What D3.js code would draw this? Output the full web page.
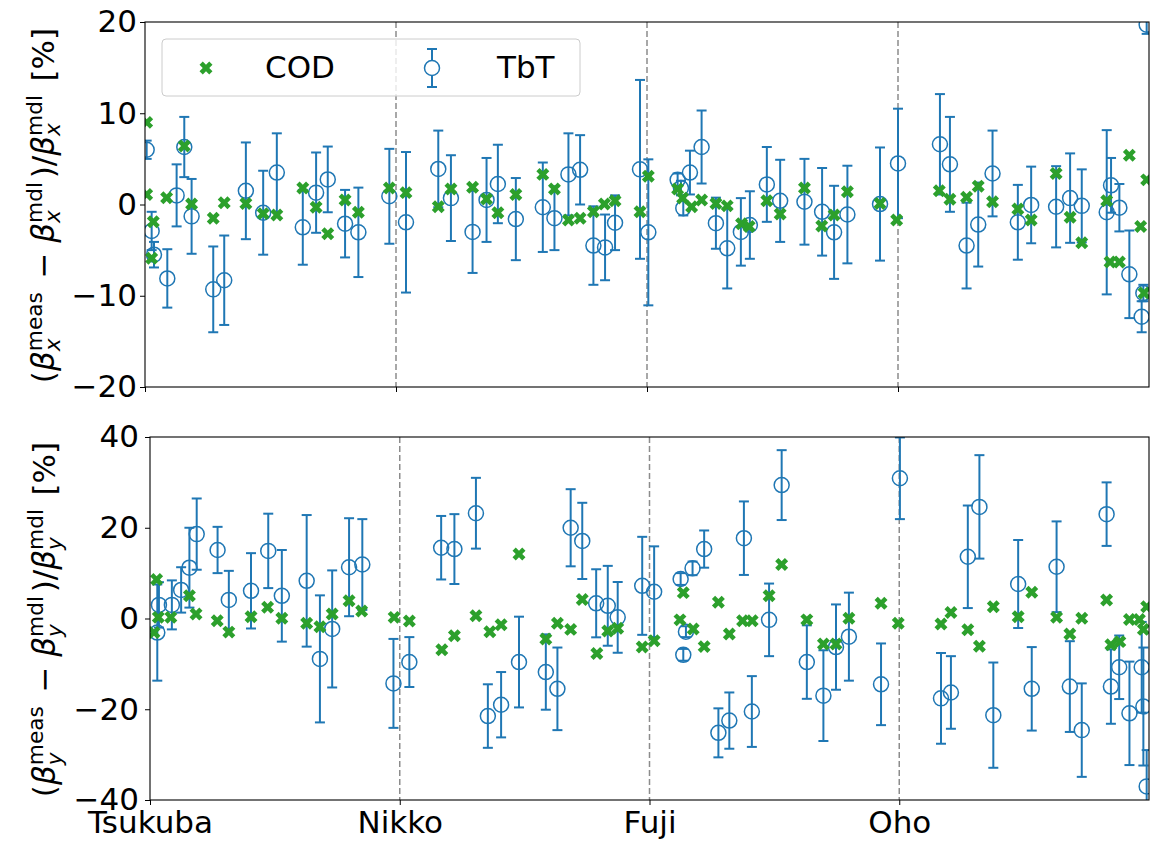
<!DOCTYPE html>
<html>
<head>
<meta charset="utf-8">
<script src="https://cdn.jsdelivr.net/npm/d3@7"></script>
<style>
  body { margin: 0; background: #fff; }
  text { font-family: "DejaVu Sans", sans-serif; fill: #000; }
</style>
</head>
<body>
<svg id="chart" width="1156" height="841"></svg>
<script>
// --------------- Data ---------------
const STATIONS = ["Tsukuba", "Nikko", "Fuji", "Oho"];
const STATION_S = [0, 754, 1508, 2262];
const RING_LENGTH = 3016;

// horizontal beta beating, COD method
const xCodS = [5, 5, 25, 20, 65, 118, 140, 205, 238, 303, 355, 396, 474, 514, 549, 601, 641, 734,
  784, 881, 919, 984, 1026, 1060, 1114, 1195, 1230, 1272, 1307, 1347, 1380, 1412, 1487, 1512,
  1600, 1615, 1642, 1672, 1715, 1749, 1792, 1815, 1868, 1908, 1981, 2033, 2070, 2110, 2208, 2258,
  2386, 2418, 2468, 2503, 2546, 2622, 2662, 2737, 2779, 2814, 2889, 2899, 2927, 2957, 2991, 3001, 3009];
const xCodV = [9.0, 1.1, -1.9, -5.9, 0.75, 6.4, 0.05, -1.5, 0.2, 0.1, -1.0, -1.15, 1.8, -0.3, -3.2, 0.5, -0.85, 1.8,
  1.3, -0.25, 1.7, 1.9, 0.6, -0.9, 1.1, 3.3, 1.7, -1.7, -1.5, -0.8, 0.05, 0.4, -0.8, 3.1,
  1.7, 0.7, -0.25, 0.5, 0.1, -0.15, -2.1, -2.4, 0.4, -1.05, 1.8, -2.35, -1.15, 1.4, 0.1, -1.7,
  1.5, 0.57, 0.8, 2.0, 0.3, -0.5, -1.7, 3.4, -1.4, -4.2, 0.4, -6.3, -6.3, 5.4, -2.4, -9.7, 2.7];

// horizontal beta beating, TbT method
const xTbtS = [5, 20, 27, 67, 95, 118, 140, 205, 238, 303, 355, 396, 474, 514, 549, 601, 641, 734,
  784, 881, 919, 984, 1026, 1060, 1114, 1195, 1230, 1272, 1307, 1347, 1382, 1412, 1487, 1512,
  1600, 1610, 1617, 1637, 1672, 1715, 1749, 1790, 1817, 1868, 1908, 1981, 2034, 2070, 2110, 2208, 2262,
  2388, 2418, 2468, 2503, 2546, 2622, 2662, 2737, 2779, 2814, 2889, 2902, 2927, 2957, 2994, 2999, 3009];
const xTbtV = [6.0, -2.9, -5.5, -8.1, 1.0, 6.3, -1.3, -9.3, -8.3, 1.5, -0.9, 3.5, -2.5, 1.3, 2.75, -2.1, -3.05, 0.9,
  -1.95, 3.9, 0.7, -3.0, 0.5, 2.25, -1.6, -0.3, -1.5, 3.3, 3.8, -4.5, -4.7, -2.0, 3.85, -3.05,
  2.7, 1.8, -0.4, 3.5, 6.3, -2.05, -4.8, -3.0, -2.25, 2.2, 0.4, 0.3, -0.8, -3.05, -1.1, 0.05, 4.5,
  6.6, 4.4, -4.5, -2.2, 3.4, -1.95, -0.05, -0.25, 0.7, -0.15, -0.85, 2.1, -0.35, -7.65, -12.3, -9.7, 19.7];
const xTbtE = [1.0, 2.1, 1.4, 3.2, 3.4, 3.3, 4.1, 4.7, 4.9, 5.3, 4.6, 4.3, 4.1, 4.4, 3.6, 3.7, 4.9, 5.2,
  7.7, 4.2, 4.7, 4.5, 4.6, 4.3, 4.5, 4.9, 3.5, 4.5, 3.8, 4.3, 3.6, 3.0, 9.8, 8.0,
  0.7, 0.8, 0.8, 2.4, 4.0, 2.8, 4.4, 3.7, 3.7, 4.1, 4.5, 4.7, 4.8, 5.1, 5.35, 6.2, 6.0,
  5.5, 5.2, 4.7, 4.6, 4.7, 4.1, 4.2, 4.45, 4.9, 4.0, 9.0, 3.0, 2.6, 4.8, 1.7, 0.9, 1.0];

// vertical beta beating, COD method
const yCodS = [20, 12, 25, 63, 119, 139, 203, 238, 305, 355, 398, 473, 513, 550, 601, 639, 737,
  783, 881, 919, 984, 1026, 1060, 1114, 1195, 1230, 1270, 1305, 1349, 1382, 1412, 1486, 1522,
  1600, 1610, 1640, 1673, 1716, 1749, 1789, 1818, 1869, 1907, 1983, 2033, 2071, 2110, 2207, 2259,
  2388, 2418, 2469, 2504, 2546, 2621, 2662, 2737, 2777, 2813, 2888, 2901, 2928, 2957, 2987, 2999, 3009];
const yCodV = [8.6, -3.1, 0.25, 0.25, 5.0, 1.0, -0.5, -3.0, 0.4, 2.5, 0.05, -1.05, -1.8, 1.0, 3.9, 1.65, 0.25,
  -0.55, -6.9, -3.8, 0.6, -2.9, -1.4, 14.2, -4.5, -1.05, -2.4, 4.2, -7.7, -2.75, -2.15, -6.3, -4.9,
  -0.3, 5.7, -2.3, -6.2, 3.6, -3.4, -0.5, -0.5, 5.0, 11.9, -0.3, -5.6, -5.6, 0.05, 3.35, -1.05,
  -1.2, 1.3, -2.5, -6.1, 2.6, 0.4, 5.8, 0.25, -3.4, 0.05, 4.1, -5.8, -5.1, -0.2, -0.2, -2.4, 2.6];

// vertical beta beating, TbT method
const yTbtS = [22, 27, 66, 94, 119, 141, 204, 238, 305, 357, 398, 473, 513, 550, 601, 641, 735,
  783, 879, 919, 984, 1020, 1060, 1114, 1195, 1230, 1270, 1305, 1347, 1382, 1412, 1486, 1522,
  1602, 1618, 1610, 1638, 1673, 1716, 1749, 1793, 1817, 1869, 1907, 1983, 2033, 2071, 2110, 2207, 2264,
  2388, 2418, 2469, 2504, 2546, 2621, 2662, 2737, 2777, 2813, 2888, 2901, 2926, 2957, 2994, 2999, 3009];
const yTbtV = [-3.1, 3.0, 3.0, 6.3, 11.2, 18.6, 15.1, 4.1, 6.1, 14.9, 5.0, 8.3, -8.9, -2.3, 11.3, 11.9, -14.3,
  -9.6, 15.6, 15.3, 23.2, -21.5, -19.0, -9.6, -11.8, -15.5, 20.0, 17.1, 3.35, 2.8, 0.25, 7.2, 5.9,
  8.7, -2.9, -8.0, 11.05, 15.3, -25.2, -22.5, 17.7, -20.5, -0.3, 29.4, -9.6, -17.0, -6.3, -4.0, -14.5, 30.9,
  -17.6, -16.3, 13.6, 24.6, -21.3, 7.6, -15.5, 11.4, -15.0, -24.6, 23.0, -15.0, -10.75, -20.9, -10.75, -19.4, -37.0];
const yTbtE = [10.6, 5.0, 5.4, 5.0, 8.8, 7.85, 5.1, 6.4, 8.3, 8.2, 10.1, 14.5, 14.0, 12.9, 10.8, 10.0, 9.8,
  5.5, 7.0, 7.7, 7.8, 7.0, 7.2, 10.0, 8.3, 9.1, 8.5, 8.4, 7.5, 8.8, 7.8, 10.8, 10.0,
  1.3, 1.2, 1.3, 1.5, 4.1, 5.4, 6.2, 8.1, 7.8, 8.0, 7.7, 8.1, 10.0, 9.4, 9.7, 9.0, 9.0,
  10.0, 8.0, 11.3, 11.4, 11.6, 9.7, 9.2, 10.0, 10.0, 10.3, 7.0, 8.2, 7.0, 11.4, 10.0, 13.0, 8.0];

const xTicks = [-20, -10, 0, 10, 20];
const yTicks = [-40, -20, 0, 20, 40];

// --------------- Constants ---------------
const FONT = 31;
const BLUE = "#1f77b4";
const GREEN = "#2ca02c";
const PANELS = [
  { id: "px", left: 145, right: 1149, top: 22, bottom: 387, domain: [-20, 20], ticks: xTicks, pad: 3,
    plane: "x", cod: [xCodS, xCodV], tbt: [xTbtS, xTbtV, xTbtE], labels: false, labelX: 53.5 },
  { id: "py", left: 150, right: 1149, top: 437, bottom: 800, domain: [-40, 40], ticks: yTicks, pad: 6,
    plane: "y", cod: [yCodS, yCodV], tbt: [yTbtS, yTbtV, yTbtE], labels: true, labelX: 55 },
];

const svg = d3.select("#chart");
const defs = svg.append("defs");

// lays out a mathtext-like label: tokens are plain/italic runs or stacked sup/sub pairs
const mathLabel = (g, tokens, fs) => {
  let x = 0;
  tokens.forEach((tk) => {
    if (tk.sup !== undefined) {
      const a = g.append("text").attr("x", x).attr("y", -0.38 * fs)
        .attr("font-size", 0.7 * fs).text(tk.sup);
      const b = g.append("text").attr("x", x).attr("y", 0.22 * fs)
        .attr("font-size", 0.7 * fs).attr("font-style", "italic").text(tk.sub);
      x += Math.max(a.node().getComputedTextLength(), b.node().getComputedTextLength()) + 0.12 * fs;
    } else {
      const t = g.append("text").attr("x", x).attr("font-size", fs)
        .attr("font-style", tk.it ? "italic" : null)
        .style("white-space", "pre").text(tk.t);
      x += t.node().getComputedTextLength();
    }
  });
  return x;
};

PANELS.forEach((p) => {
  const x = d3.scaleLinear().domain([0, RING_LENGTH]).range([p.left, p.right]);
  const y = d3.scaleLinear().domain(p.domain).range([p.bottom, p.top]);

  defs.append("clipPath").attr("id", "clip-" + p.id)
    .append("rect").attr("x", p.left).attr("y", p.top)
    .attr("width", p.right - p.left).attr("height", p.bottom - p.top);

  // station dividers
  svg.append("g").selectAll("line").data(STATION_S.slice(1)).join("line")
    .attr("x1", (d) => x(d)).attr("x2", (d) => x(d))
    .attr("y1", p.top).attr("y2", p.bottom)
    .attr("stroke", "#8c8c8c").attr("stroke-width", 1.5)
    .attr("stroke-dasharray", "6,3");

  const plot = svg.append("g").attr("clip-path", `url(#clip-${p.id})`);

  // TbT with error bars
  const [ts, tv, te] = p.tbt;
  const tb = plot.append("g");
  ts.forEach((s, i) => {
    const cx = x(s), y0 = y(tv[i] - te[i]), y1 = y(tv[i] + te[i]);
    tb.append("line").attr("x1", cx).attr("x2", cx).attr("y1", y0).attr("y2", y1)
      .attr("stroke", BLUE).attr("stroke-width", 2);
    [y0, y1].forEach((cy) => {
      tb.append("line").attr("x1", cx - 5).attr("x2", cx + 5).attr("y1", cy).attr("y2", cy)
        .attr("stroke", BLUE).attr("stroke-width", 2);
    });
    tb.append("circle").attr("cx", cx).attr("cy", y(tv[i])).attr("r", 7.5)
      .attr("fill", "none").attr("stroke", BLUE).attr("stroke-width", 1.5);
  });

  // COD markers
  const [cs, cv] = p.cod;
  plot.append("g").selectAll("path").data(cs).join("path")
    .attr("d", d3.symbol(d3.symbolCross, 105))
    .attr("transform", (d, i) => `translate(${x(d)},${y(cv[i])}) rotate(45)`)
    .attr("fill", GREEN);

  // frame
  svg.append("rect").attr("x", p.left).attr("y", p.top)
    .attr("width", p.right - p.left).attr("height", p.bottom - p.top)
    .attr("fill", "none").attr("stroke", "#000").attr("stroke-width", 1.1);

  // y axis
  const yAxis = d3.axisLeft(y).tickValues(p.ticks).tickSize(5).tickPadding(p.pad)
    .tickFormat((d) => (d < 0 ? "\u2212" + Math.abs(d) : d));
  const ga = svg.append("g").attr("transform", `translate(${p.left},0)`).call(yAxis);
  ga.select(".domain").remove();
  ga.selectAll("text").attr("font-size", FONT).attr("font-family", "DejaVu Sans").attr("fill", "#000");

  // x axis
  const xAxis = d3.axisBottom(x).tickValues(STATION_S).tickSize(5).tickPadding(6)
    .tickFormat((d, i) => (p.labels ? STATIONS[i] : ""));
  const gx = svg.append("g").attr("transform", `translate(0,${p.bottom})`).call(xAxis);
  gx.select(".domain").remove();
  gx.selectAll("text").attr("font-size", FONT).attr("font-family", "DejaVu Sans").attr("fill", "#000");

  // y label
  const outer = svg.append("g")
    .attr("transform", `translate(${p.labelX},${(p.top + p.bottom) / 2 + 1}) rotate(-90)`);
  const inner = outer.append("g");
  const w = mathLabel(inner, [
    { t: "(" }, { t: "\u03b2", it: true }, { sup: "meas", sub: p.plane },
    { t: " \u2212 " }, { t: "\u03b2", it: true }, { sup: "mdl", sub: p.plane },
    { t: ")/" }, { t: "\u03b2", it: true }, { sup: "mdl", sub: p.plane }, { t: " [%]" },
  ], FONT);
  inner.attr("transform", `translate(${-w / 2},0)`);
});

// --------------- Legend ---------------
const lg = svg.append("g");
lg.append("rect").attr("x", 162).attr("y", 39).attr("width", 418).attr("height", 57).attr("rx", 4)
  .attr("fill", "#fff").attr("fill-opacity", 0.8).attr("stroke", "#cccccc").attr("stroke-width", 1);
lg.append("path").attr("d", d3.symbol(d3.symbolCross, 105))
  .attr("transform", "translate(206,68) rotate(45)").attr("fill", GREEN);
lg.append("text").attr("x", 265).attr("y", 78).attr("font-size", FONT).text("COD");
lg.append("line").attr("x1", 432).attr("x2", 432).attr("y1", 49).attr("y2", 87)
  .attr("stroke", BLUE).attr("stroke-width", 2);
[49, 87].forEach((cy) => {
  lg.append("line").attr("x1", 427).attr("x2", 437).attr("y1", cy).attr("y2", cy)
    .attr("stroke", BLUE).attr("stroke-width", 2);
});
lg.append("circle").attr("cx", 432).attr("cy", 68).attr("r", 7.5)
  .attr("fill", "#fff").attr("stroke", BLUE).attr("stroke-width", 1.5);
lg.append("text").attr("x", 497).attr("y", 78).attr("font-size", FONT).text("TbT");
</script>
</body>
</html>
